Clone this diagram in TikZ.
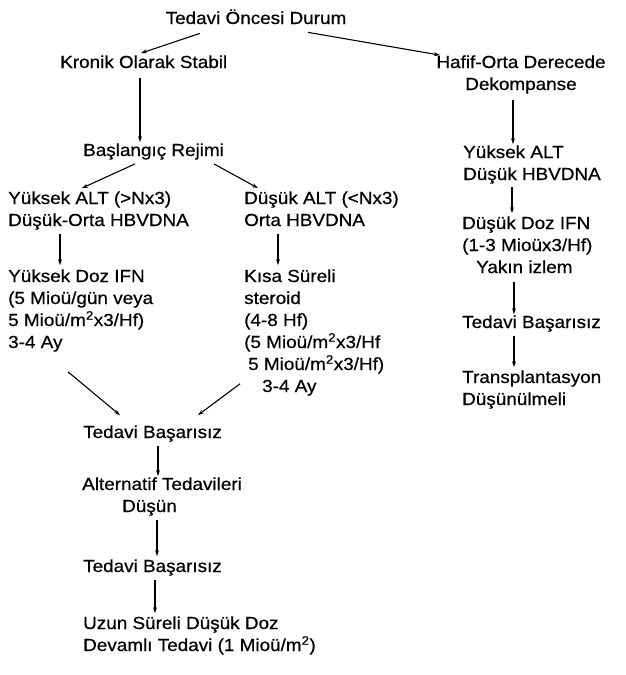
\documentclass[tikz,border=0pt]{standalone}
\usepackage{fontspec}
\setmainfont{Liberation Sans}[FakeStretch=1.08,FakeBold=0.6]
\usetikzlibrary{arrows.meta,calc}

\tikzset{
  txt/.style={inner sep=0pt, font=\fontsize{17.5}{22}\selectfont, align=left},
  link/.style={->, line width=1.1pt}
}

\begin{document}
\begin{tikzpicture}[x=1pt, y=-1pt, >={Stealth[length=6pt,width=4pt]}]
  \useasboundingbox (0,0) rectangle (625,675);

  % top and first split (base = last line)
  \node[txt, anchor=base] (top) at (256,24) {Tedavi Öncesi Durum};
  \node[txt, anchor=base west] (kronik) at (60,68) {Kronik Olarak Stabil};
  \node[txt, anchor=base, align=center] (hafif) at (521,90) {Hafif-Orta Derecede\\Dekompanse};

  % left branch
  \node[txt, anchor=base west] (basla) at (83,156) {Başlangıç Rejimi};
  \node[txt, anchor=base west] (yalt) at (8,226) {Yüksek ALT (>Nx3)\\Düşük-Orta HBVDNA};
  \node[txt, anchor=base west] (dalt) at (244,226) {Düşük ALT (<Nx3)\\Orta HBVDNA};
  \node[txt, anchor=base west] (ydoz) at (8,348)
    {Yüksek Doz IFN\\(5 Mioü/gün veya\\5 Mioü/m\textsuperscript{2}x3/Hf)\\3-4 Ay};
  \node[txt, anchor=base west] (kisa) at (244,392)
    {Kısa Süreli\\steroid\\(4-8 Hf)\\(5 Mioü/m\textsuperscript{2}x3/Hf\\
     \hspace*{4pt}5 Mioü/m\textsuperscript{2}x3/Hf)\\\hspace*{18pt}3-4 Ay};
  \node[txt, anchor=base west] (bas1) at (83,438) {Tedavi Başarısız};
  \node[txt, anchor=base west] (alt) at (82,512) {Alternatif Tedavileri\\\hspace*{40pt}Düşün};
  \node[txt, anchor=base west] (bas2) at (83,572) {Tedavi Başarısız};
  \node[txt, anchor=base west] (uzun) at (83,651)
    {Uzun Süreli Düşük Doz\\Devamlı Tedavi (1 Mioü/m\textsuperscript{2})};

  % right branch
  \node[txt, anchor=base west] (yaltR) at (463,180) {Yüksek ALT\\Düşük HBVDNA};
  \node[txt, anchor=base west] (dozR) at (462,273)
    {Düşük Doz IFN\\(1-3 Mioüx3/Hf)\\\hspace*{14pt}Yakın izlem};
  \node[txt, anchor=base west] (basR) at (462,328) {Tedavi Başarısız};
  \node[txt, anchor=base west] (trans) at (462,405) {Transplantasyon\\Düşünülmeli};

  % connectors
  \draw[link] ($(top.south)+(-56,9)$) -- ($(kronik.north west)+(81,-2)$);
  \draw[link] ($(top.south)+(52,8)$) -- ($(hafif.north)+(-81,0)$);
  \draw[link] ($(kronik.south west)+(80,10)$) -- ($(basla.north west)+(57,-1)$);
  \draw[link] ($(basla.south west)+(52,4)$) -- ($(yalt.north west)+(74,-3)$);
  \draw[link] ($(basla.south west)+(131,4)$) -- ($(dalt.north west)+(14,-3)$);
  \draw[link] ($(yalt.south west)+(52,4)$) -- ($(ydoz.north west)+(52,-4)$);
  \draw[link] ($(dalt.south west)+(34,8)$) -- ($(kisa.north west)+(34,-4)$);
  \draw[link] ($(ydoz.south west)+(60,20)$) -- ($(bas1.north west)+(37,-10)$);
  \draw[link] ($(kisa.south west)+(-4,-12)$) -- ($(bas1.north west)+(115,-10)$);
  \draw[link] ($(bas1.south west)+(75,4)$) -- ($(alt.north west)+(76,-1)$);
  \draw[link] ($(alt.south west)+(75,4)$) -- ($(bas2.north west)+(74,-3)$);
  \draw[link] ($(bas2.south west)+(72,4)$) -- ($(uzun.north west)+(72,-3)$);

  \draw[link] ($(hafif.south)+(-8,6)$) -- ($(yaltR.north west)+(50,-1)$);
  \draw[link] ($(yaltR.south west)+(49,3)$) -- ($(dozR.north west)+(50,-3)$);
  \draw[link] ($(dozR.south west)+(52,9)$) -- ($(basR.north west)+(52,-1)$);
  \draw[link] ($(basR.south west)+(52,4)$) -- ($(trans.north west)+(52,-3)$);
\end{tikzpicture}
\end{document}
